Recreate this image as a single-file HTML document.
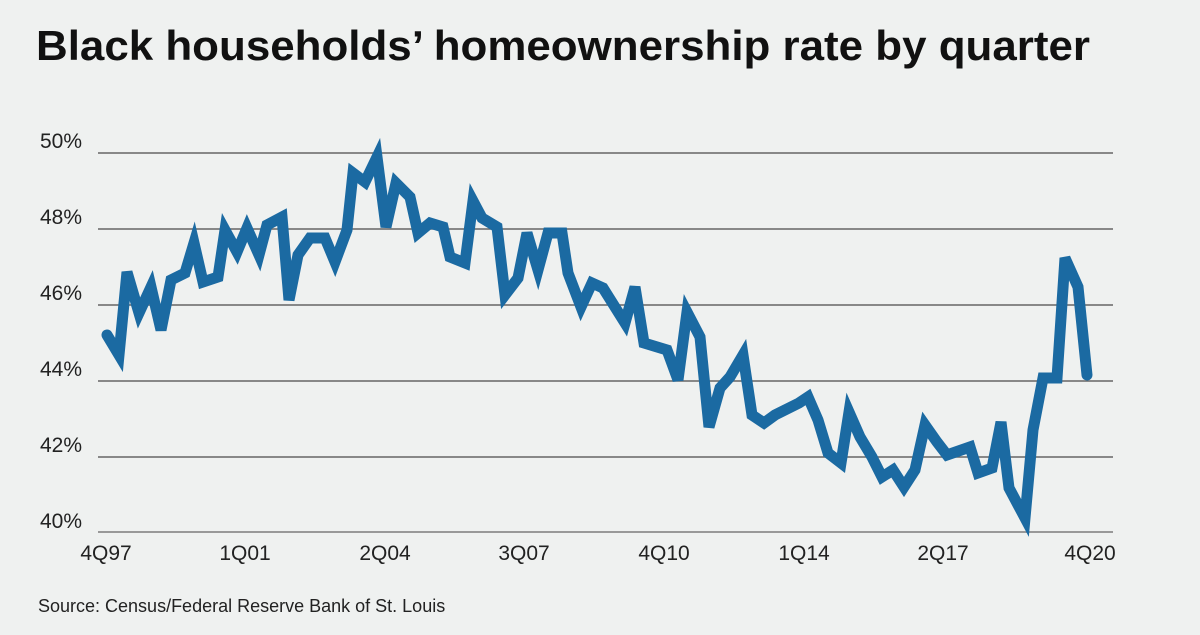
<!DOCTYPE html>
<html><head><meta charset="utf-8"><style>
body{margin:0;width:1200px;height:630px;background:#eff1f0;overflow:hidden;font-family:"Liberation Sans",sans-serif}
</style></head><body>
<svg width="1200" height="630" xmlns="http://www.w3.org/2000/svg">
<text x="36" y="60" font-size="42" font-weight="bold" fill="#111" textLength="1054" lengthAdjust="spacingAndGlyphs">Black households’ homeownership rate by quarter</text>
<g stroke="#666" stroke-width="1.5">
<line x1="98" y1="153" x2="1113" y2="153"/>
<line x1="98" y1="229" x2="1113" y2="229"/>
<line x1="98" y1="305" x2="1113" y2="305"/>
<line x1="98" y1="381" x2="1113" y2="381"/>
<line x1="98" y1="457" x2="1113" y2="457"/>
<line x1="98" y1="532" x2="1113" y2="532" stroke="#999" stroke-width="2"/>
</g>
<g font-size="21" fill="#222">
<text x="40" y="148">50%</text><text x="40" y="224">48%</text><text x="40" y="300">46%</text>
<text x="40" y="376">44%</text><text x="40" y="452">42%</text><text x="40" y="528">40%</text>
</g>
<g font-size="21" fill="#222" text-anchor="middle">
<text x="106" y="560">4Q97</text><text x="245" y="560">1Q01</text><text x="385" y="560">2Q04</text>
<text x="524" y="560">3Q07</text><text x="664" y="560">4Q10</text><text x="804" y="560">1Q14</text>
<text x="943" y="560">2Q17</text><text x="1090" y="560">4Q20</text>
</g>
<polyline fill="none" stroke="#1b6aa2" stroke-width="11" stroke-linejoin="miter" stroke-linecap="round" points="107,335 119,355 127,272 139,313 151,287 161,330 171,280 185,273 194,243 203,282 218,277 225,230 237,252 247,228 259,255 267,225 282,217 289,300 298,255 310,238 325,238 335,262 347,230 353,173 365,182 377,157 386,227 396,183 410,197 418,233 430,223 443,227 450,257 465,263 473,201 482,218 497,227 505,295 518,278 527,233 538,270 548,233 562,233 568,273 581,307 592,283 603,288 625,323 635,287 644,343 667,350 678,380 687,312 700,337 709,427 720,388 730,377 743,355 752,415 764,423 775,415 799,403 808,397 818,420 828,453 841,463 849,412 860,437 872,457 882,477 893,470 904,487 915,470 925,425 937,442 947,455 970,447 978,473 992,468 1001,422 1009,488 1025,518 1033,430 1043,378 1057,378 1065,258 1078,287 1087,375"/>
<text x="38" y="612" font-size="18" fill="#222">Source: Census/Federal Reserve Bank of St. Louis</text>
</svg>
</body></html>
